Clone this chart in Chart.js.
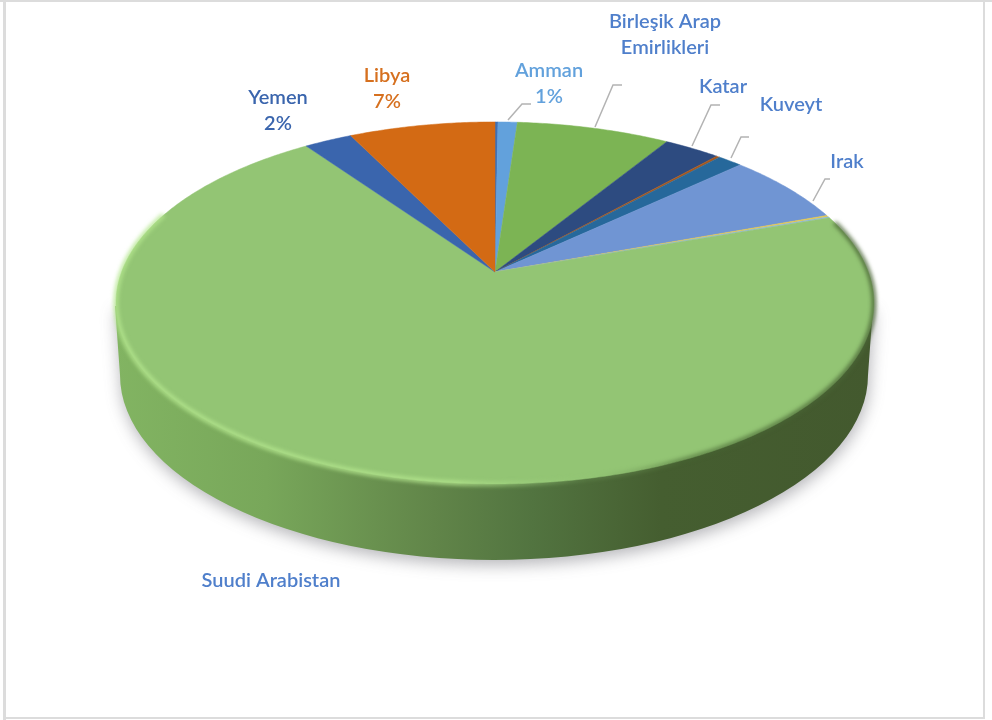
<!DOCTYPE html>
<html>
<head>
<meta charset="utf-8">
<style>
    html, body { margin: 0; padding: 0; background: #fff; }
    #wrap { position: relative; width: 992px; height: 720px; overflow: hidden; }
    #chart-1 { position: absolute; left: 0; top: 0; filter: blur(0.35px); }
</style>
<script src="https://cdn.jsdelivr.net/npm/chart.js@4"></script>
</head>
<body>
<div id="wrap"><canvas id="chart-1" width="992" height="720"></canvas></div>
<script>
// shares clockwise from 12 o'clock
const categories = ['', 'Amman', 'Birleşik Arap Emirlikleri', 'Katar', '', 'Kuveyt', 'Irak', '', '', 'Suudi Arabistan', 'Yemen', 'Libya'];
const shares = [0.15, 0.97, 7.72, 2.83, 0.17, 1.25, 6.39, 0.14, 0.11, 70.53, 2.42, 7.36];
const sliceColors = ['#3f70b4', '#62a1dc', '#7cb454', '#2d4b80', '#a8581c', '#26689b', '#7095d3', '#e6c84c', '#8db8d6', '#93c574', '#3a65ad', '#d36a14'];

// tilted disc, apex sits above the middle of the ellipse because of the perspective
const disc = { x: 495, y: 272, rx: 373.4, ry: 175.7, p: 0.171 };
const wall = { x: 494, y: 375, rx: 374, ry: 185, topY: 306, topLeft: 115, topRight: 873 };

function project(a) {
    let u = Math.cos(a), v = Math.sin(a), w = 1 - disc.p * v;
    return [disc.x + disc.rx * u / w, disc.y + disc.ry * v / w];
}

function tracePoints(ctx, from, to) {
    let steps = Math.max(2, Math.ceil(Math.abs(to - from) / 0.01));
    for (let i = 0; i <= steps; i++) {
        let pt = project(from + (to - from) * i / steps);
        ctx.lineTo(pt[0], pt[1]);
    }
}

const textBlue = '#4f7fcb';
const labels = [
    { lines: ['Libya', '7%'], x: 387, y: 76, color: '#d6701f' },
    { lines: ['Yemen', '2%'], x: 278, y: 98, color: '#3a65ad' },
    { lines: ['Amman', '1%'], x: 549, y: 71, color: '#62a1dc' },
    { lines: ['Birleşik Arap', 'Emirlikleri'], x: 665, y: 22, color: textBlue },
    { lines: ['Katar'], x: 723, y: 87, color: textBlue },
    { lines: ['Kuveyt'], x: 791, y: 105, color: textBlue },
    { lines: ['Irak'], x: 847, y: 162, color: textBlue },
    { lines: ['Suudi Arabistan'], x: 271, y: 581, color: textBlue }
];
const leaders = [
    [[508, 120], [522, 104], [531, 104]],
    [[595, 127], [613, 85], [622, 85]],
    [[692, 146], [711, 105], [720, 105]],
    [[731, 158], [741, 137], [749, 137]],
    [[813, 201], [825, 179], [830, 179]]
];

const disc3d = {
    id: 'disc3d',
    beforeDatasetsDraw(chart) {
        let ctx = chart.ctx;
        // frame of the screenshot
        ctx.fillStyle = '#dcdcdc';
        ctx.fillRect(0, 0, 992, 2);
        ctx.fillRect(3, 0, 3, 720);
        ctx.fillRect(983, 0, 2, 718);
        ctx.fillRect(3, 717, 982, 2);

        ctx.save();
        ctx.beginPath();
        ctx.moveTo(wall.topLeft, wall.topY);
        ctx.lineTo(wall.x - wall.rx, wall.y);
        ctx.ellipse(wall.x, wall.y, wall.rx, wall.ry, 0, Math.PI, 0, true);
        ctx.lineTo(wall.topRight, wall.topY);
        ctx.closePath();
        let g = ctx.createLinearGradient(115, 0, 873, 0);
        g.addColorStop(0, '#82b462');
        g.addColorStop(0.2, '#78a75a');
        g.addColorStop(0.42, '#618549');
        g.addColorStop(0.55, '#527440');
        g.addColorStop(0.72, '#455e30');
        g.addColorStop(1, '#43592e');
        ctx.shadowColor = 'rgba(70,70,80,0.4)';
        ctx.shadowBlur = 16;
        ctx.shadowOffsetX = 1;
        ctx.shadowOffsetY = 5;
        ctx.fillStyle = g;
        ctx.fill();
        ctx.restore();
    },
    beforeDatasetDraw(chart, args) {
        let ctx = chart.ctx;
        let arcs = chart.getDatasetMeta(args.index).data;
        arcs.forEach((arc, i) => {
            let color = sliceColors[i];
            ctx.beginPath();
            ctx.moveTo(disc.x, disc.y);
            tracePoints(ctx, arc.startAngle, arc.endAngle);
            ctx.closePath();
            ctx.fillStyle = color;
            ctx.strokeStyle = color;
            ctx.lineWidth = 0.5;
            ctx.fill();
            ctx.stroke();
        });
        return false;
    },
    afterDatasetsDraw(chart) {
        let ctx = chart.ctx;
        // bevel on the rim: light on the left, dark on the right
        ctx.save();
        ctx.filter = 'blur(2px)';
        let g = ctx.createLinearGradient(115, 0, 873, 0);
        g.addColorStop(0, '#b4e68e');
        g.addColorStop(0.45, '#b4e68e');
        g.addColorStop(0.62, 'rgba(150,200,120,0.2)');
        g.addColorStop(0.75, 'rgba(70,100,50,0.7)');
        g.addColorStop(1, '#4a6536');
        ctx.strokeStyle = g;
        ctx.lineWidth = 4;
        ctx.beginPath();
        let first = project(-0.3);
        ctx.moveTo(first[0], first[1]);
        tracePoints(ctx, -0.3, Math.PI + 0.35);
        ctx.stroke();
        ctx.restore();

        ctx.strokeStyle = '#b3b3b3';
        ctx.lineWidth = 1.5;
        leaders.forEach(line => {
            ctx.beginPath();
            line.forEach((pt, i) => i ? ctx.lineTo(pt[0], pt[1]) : ctx.moveTo(pt[0], pt[1]));
            ctx.stroke();
        });

        ctx.font = '600 20px Lato';
        ctx.textAlign = 'center';
        ctx.textBaseline = 'middle';
        labels.forEach(item => {
            ctx.fillStyle = item.color;
            item.lines.forEach((text, i) => ctx.fillText(text, item.x, item.y + i * 26));
        });
    }
};

let chart_1 = document.getElementById('chart-1');

new Chart(chart_1, {
    type: 'pie',
    data: {
        labels: categories,
        datasets: [{
            data: shares,
            backgroundColor: sliceColors,
            borderWidth: 0
        }]
    },
    options: {
        responsive: false,
        animation: false,
        plugins: {
            legend: { display: false },
            tooltip: { enabled: false }
        }
    },
    plugins: [disc3d]
});
</script>
</body>
</html>
